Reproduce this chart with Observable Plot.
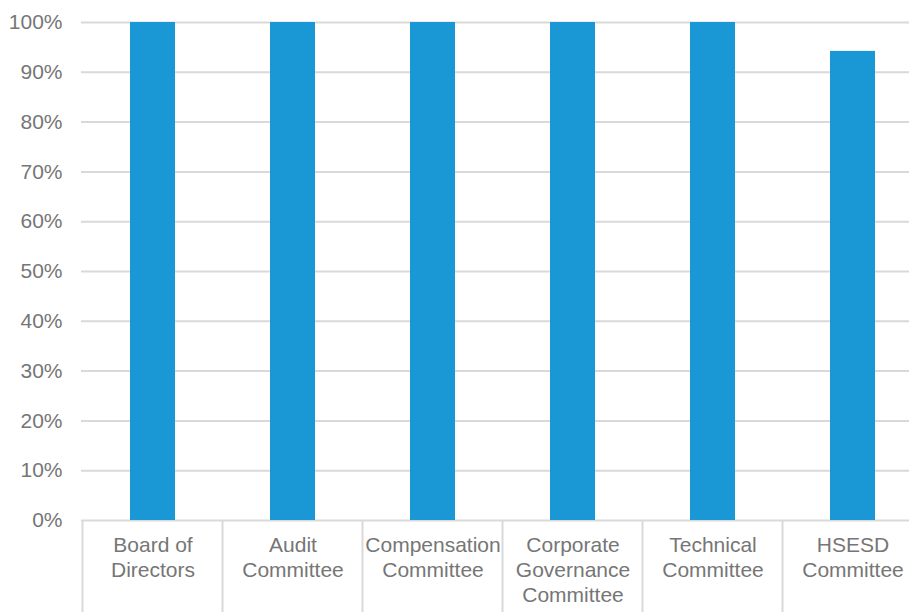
<!DOCTYPE html>
<html>
<head>
<meta charset="utf-8">
<script src="https://cdn.jsdelivr.net/npm/d3@7"></script>
<script src="https://cdn.jsdelivr.net/npm/@observablehq/plot@0.6"></script>
<style>
  html, body { margin: 0; padding: 0; background: #fff; }
  #chart { width: 909px; height: 612px; overflow: hidden; }
</style>
</head>
<body>
<div id="chart"></div>
<script>
const categories = ["Board of Directors", "Audit Committee", "Compensation Committee", "Corporate Governance Committee", "Technical Committee", "HSESD Committee"];
const tickLabels = ["Board of\nDirectors", "Audit\nCommittee", "Compensation\nCommittee", "Corporate\nGovernance\nCommittee", "Technical\nCommittee", "HSESD\nCommittee"];
const attendance = [1.0, 1.0, 1.0, 1.0, 1.0, 0.942];
const yTicks = [0, 0.1, 0.2, 0.3, 0.4, 0.5, 0.6, 0.7, 0.8, 0.9, 1.0];

const data = categories.map((c, i) => ({category: c, value: attendance[i]}));
const labelOf = new Map(categories.map((c, i) => [c, tickLabels[i]]));

const gridColor = "#d9d9d9";
const textColor = "#767676";

// category separators drawn from the band scale
function separators(index, scales, values, dimensions) {
  const x = scales.x, y = scales.y;
  const step = x.step(), bw = x.bandwidth();
  const half = (step - bw) / 2;
  const edges = categories.map(c => x(c) - half);
  edges.push(x(categories[categories.length - 1]) + bw + half);
  const g = d3.create("svg:g");
  for (const e of edges) {
    g.append("line")
      .attr("x1", e).attr("x2", e)
      .attr("y1", y(0)).attr("y2", dimensions.height)
      .attr("stroke", gridColor)
      .attr("stroke-width", 2);
  }
  return g.node();
}

const plot = Plot.plot({
  width: 909,
  height: 612,
  marginTop: 22,
  marginBottom: 92,
  marginLeft: 81,
  marginRight: 0,
  style: {fontFamily: "'Liberation Sans', Arial, sans-serif", fontSize: "21px", background: "#fff", overflow: "visible"},
  x: {domain: categories, range: [81.3, 923.7], paddingInner: 0.68, paddingOuter: 0.34},
  y: {domain: [0, 1]},
  marks: [
    Plot.gridY(yTicks, {stroke: gridColor, strokeOpacity: 1, strokeWidth: 2}),
    Plot.barY(data, {x: "category", y: "value", fill: "#1a98d5"}),
    Plot.axisY(yTicks, {tickSize: 0, tickPadding: 19, tickFormat: d3.format(".0%"), fontSize: 21, color: textColor, label: null}),
    Plot.axisX({tickSize: 0, tickPadding: 14, tickFormat: d => labelOf.get(d), fontSize: 21, lineHeight: 1.19, color: textColor, label: null}),
    separators
  ]
});
document.getElementById("chart").appendChild(plot);
</script>
</body>
</html>
